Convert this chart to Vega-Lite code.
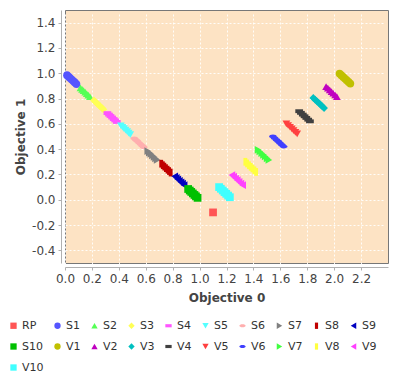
{
  "$schema": "https://vega.github.io/schema/vega-lite/v6.json",
  "autosize": {"type": "none"},
  "padding": {"left": 65, "top": 10, "right": 12, "bottom": 115},
  "width": 323,
  "height": 253,
  "background": "white",
  "config": {
    "view": {"fill": "#FDE3C4", "stroke": "#777777", "strokeWidth": 1},
    "font": "DejaVu Sans",
    "axis": {
      "labelFont": "DejaVu Sans", "labelFontSize": 12, "labelColor": "#444444",
      "titleFont": "DejaVu Sans", "titleFontSize": 12, "titleFontWeight": "bold", "titleColor": "#444444",
      "domainColor": "#B0B0B0", "tickColor": "#B0B0B0", "tickSize": 3, "labelPadding": 3,
      "labelOverlap": false, "labelFlush": false,
      "gridColor": "#FFFFFF", "gridDash": [2, 2], "gridOpacity": 0.9, "gridWidth": 1, "offset": 4
    }
  },
  "data": {"values": [
    {"s": "RP", "x": 1.1, "y": -0.1},
    {"s": "S1", "x": 0.015, "y": 0.985}, {"s": "S1", "x": 0.027, "y": 0.973}, {"s": "S1", "x": 0.038, "y": 0.962}, {"s": "S1", "x": 0.05, "y": 0.95}, {"s": "S1", "x": 0.062, "y": 0.938}, {"s": "S1", "x": 0.073, "y": 0.927}, {"s": "S1", "x": 0.085, "y": 0.915},
    {"s": "S2", "x": 0.115, "y": 0.885}, {"s": "S2", "x": 0.127, "y": 0.873}, {"s": "S2", "x": 0.138, "y": 0.862}, {"s": "S2", "x": 0.15, "y": 0.85}, {"s": "S2", "x": 0.162, "y": 0.838}, {"s": "S2", "x": 0.173, "y": 0.827}, {"s": "S2", "x": 0.185, "y": 0.815},
    {"s": "S3", "x": 0.215, "y": 0.785}, {"s": "S3", "x": 0.227, "y": 0.773}, {"s": "S3", "x": 0.238, "y": 0.762}, {"s": "S3", "x": 0.25, "y": 0.75}, {"s": "S3", "x": 0.262, "y": 0.738}, {"s": "S3", "x": 0.273, "y": 0.727}, {"s": "S3", "x": 0.285, "y": 0.715},
    {"s": "S4", "x": 0.315, "y": 0.685}, {"s": "S4", "x": 0.327, "y": 0.673}, {"s": "S4", "x": 0.338, "y": 0.662}, {"s": "S4", "x": 0.35, "y": 0.65}, {"s": "S4", "x": 0.362, "y": 0.638}, {"s": "S4", "x": 0.373, "y": 0.627}, {"s": "S4", "x": 0.385, "y": 0.615},
    {"s": "S5", "x": 0.415, "y": 0.585}, {"s": "S5", "x": 0.427, "y": 0.573}, {"s": "S5", "x": 0.438, "y": 0.562}, {"s": "S5", "x": 0.45, "y": 0.55}, {"s": "S5", "x": 0.462, "y": 0.538}, {"s": "S5", "x": 0.473, "y": 0.527}, {"s": "S5", "x": 0.485, "y": 0.515},
    {"s": "S6", "x": 0.515, "y": 0.485}, {"s": "S6", "x": 0.527, "y": 0.473}, {"s": "S6", "x": 0.538, "y": 0.462}, {"s": "S6", "x": 0.55, "y": 0.45}, {"s": "S6", "x": 0.562, "y": 0.438}, {"s": "S6", "x": 0.573, "y": 0.427}, {"s": "S6", "x": 0.585, "y": 0.415},
    {"s": "S7", "x": 0.615, "y": 0.385}, {"s": "S7", "x": 0.627, "y": 0.373}, {"s": "S7", "x": 0.638, "y": 0.362}, {"s": "S7", "x": 0.65, "y": 0.35}, {"s": "S7", "x": 0.662, "y": 0.338}, {"s": "S7", "x": 0.673, "y": 0.327}, {"s": "S7", "x": 0.685, "y": 0.315},
    {"s": "S8", "x": 0.715, "y": 0.285}, {"s": "S8", "x": 0.727, "y": 0.273}, {"s": "S8", "x": 0.738, "y": 0.262}, {"s": "S8", "x": 0.75, "y": 0.25}, {"s": "S8", "x": 0.762, "y": 0.238}, {"s": "S8", "x": 0.773, "y": 0.227}, {"s": "S8", "x": 0.785, "y": 0.215},
    {"s": "S9", "x": 0.815, "y": 0.185}, {"s": "S9", "x": 0.827, "y": 0.173}, {"s": "S9", "x": 0.838, "y": 0.162}, {"s": "S9", "x": 0.85, "y": 0.15}, {"s": "S9", "x": 0.862, "y": 0.138}, {"s": "S9", "x": 0.873, "y": 0.127}, {"s": "S9", "x": 0.885, "y": 0.115},
    {"s": "S10", "x": 0.915, "y": 0.085}, {"s": "S10", "x": 0.927, "y": 0.073}, {"s": "S10", "x": 0.938, "y": 0.062}, {"s": "S10", "x": 0.95, "y": 0.05}, {"s": "S10", "x": 0.962, "y": 0.038}, {"s": "S10", "x": 0.973, "y": 0.027}, {"s": "S10", "x": 0.985, "y": 0.015},
    {"s": "V1", "x": 2.04, "y": 0.998}, {"s": "V1", "x": 2.053, "y": 0.985}, {"s": "V1", "x": 2.067, "y": 0.971}, {"s": "V1", "x": 2.08, "y": 0.958}, {"s": "V1", "x": 2.093, "y": 0.945}, {"s": "V1", "x": 2.107, "y": 0.931}, {"s": "V1", "x": 2.12, "y": 0.918},
    {"s": "V2", "x": 1.94, "y": 0.895}, {"s": "V2", "x": 1.953, "y": 0.882}, {"s": "V2", "x": 1.967, "y": 0.868}, {"s": "V2", "x": 1.98, "y": 0.855}, {"s": "V2", "x": 1.993, "y": 0.842}, {"s": "V2", "x": 2.007, "y": 0.828}, {"s": "V2", "x": 2.02, "y": 0.815},
    {"s": "V3", "x": 1.845, "y": 0.805}, {"s": "V3", "x": 1.858, "y": 0.792}, {"s": "V3", "x": 1.872, "y": 0.778}, {"s": "V3", "x": 1.885, "y": 0.765}, {"s": "V3", "x": 1.898, "y": 0.752}, {"s": "V3", "x": 1.912, "y": 0.738}, {"s": "V3", "x": 1.925, "y": 0.725},
    {"s": "V4", "x": 1.74, "y": 0.7}, {"s": "V4", "x": 1.753, "y": 0.687}, {"s": "V4", "x": 1.767, "y": 0.673}, {"s": "V4", "x": 1.78, "y": 0.66}, {"s": "V4", "x": 1.793, "y": 0.647}, {"s": "V4", "x": 1.807, "y": 0.633}, {"s": "V4", "x": 1.82, "y": 0.62},
    {"s": "V5", "x": 1.645, "y": 0.6}, {"s": "V5", "x": 1.658, "y": 0.587}, {"s": "V5", "x": 1.672, "y": 0.573}, {"s": "V5", "x": 1.685, "y": 0.56}, {"s": "V5", "x": 1.698, "y": 0.547}, {"s": "V5", "x": 1.712, "y": 0.533}, {"s": "V5", "x": 1.725, "y": 0.52},
    {"s": "V6", "x": 1.545, "y": 0.5}, {"s": "V6", "x": 1.558, "y": 0.487}, {"s": "V6", "x": 1.572, "y": 0.473}, {"s": "V6", "x": 1.585, "y": 0.46}, {"s": "V6", "x": 1.598, "y": 0.447}, {"s": "V6", "x": 1.612, "y": 0.433}, {"s": "V6", "x": 1.625, "y": 0.42},
    {"s": "V7", "x": 1.435, "y": 0.395}, {"s": "V7", "x": 1.448, "y": 0.382}, {"s": "V7", "x": 1.462, "y": 0.368}, {"s": "V7", "x": 1.475, "y": 0.355}, {"s": "V7", "x": 1.488, "y": 0.342}, {"s": "V7", "x": 1.502, "y": 0.328}, {"s": "V7", "x": 1.515, "y": 0.315},
    {"s": "V8", "x": 1.34, "y": 0.3}, {"s": "V8", "x": 1.353, "y": 0.287}, {"s": "V8", "x": 1.367, "y": 0.273}, {"s": "V8", "x": 1.38, "y": 0.26}, {"s": "V8", "x": 1.393, "y": 0.247}, {"s": "V8", "x": 1.407, "y": 0.233}, {"s": "V8", "x": 1.42, "y": 0.22},
    {"s": "V9", "x": 1.24, "y": 0.195}, {"s": "V9", "x": 1.253, "y": 0.182}, {"s": "V9", "x": 1.267, "y": 0.168}, {"s": "V9", "x": 1.28, "y": 0.155}, {"s": "V9", "x": 1.293, "y": 0.142}, {"s": "V9", "x": 1.307, "y": 0.128}, {"s": "V9", "x": 1.32, "y": 0.115},
    {"s": "V10", "x": 1.145, "y": 0.1}, {"s": "V10", "x": 1.158, "y": 0.087}, {"s": "V10", "x": 1.172, "y": 0.073}, {"s": "V10", "x": 1.185, "y": 0.06}, {"s": "V10", "x": 1.198, "y": 0.047}, {"s": "V10", "x": 1.212, "y": 0.033}, {"s": "V10", "x": 1.225, "y": 0.02}
  ]},
  "mark": {"type": "point", "filled": true, "opacity": 1, "size": 60},
  "encoding": {
    "x": {
      "field": "x", "type": "quantitative", "title": "Objective 0",
      "scale": {"domain": [0, 2.4], "nice": false, "zero": false},
      "axis": {"values": [0, 0.2, 0.4, 0.6, 0.8, 1.0, 1.2, 1.4, 1.6, 1.8, 2.0, 2.2], "format": ".1f", "titlePadding": 8}
    },
    "y": {
      "field": "y", "type": "quantitative", "title": "Objective 1",
      "scale": {"domain": [-0.5, 1.5], "nice": false, "zero": false},
      "axis": {"values": [-0.4, -0.2, 0, 0.2, 0.4, 0.6, 0.8, 1.0, 1.2, 1.4], "labelExpr": "replace(format(datum.value, '.1f'), '\u2212', '-')", "titlePadding": 4}
    },
    "color": {
      "field": "s", "type": "nominal", "sort": null,
      "scale": {
        "domain": ["RP", "S1", "S2", "S3", "S4", "S5", "S6", "S7", "S8", "S9", "S10", "V1", "V2", "V3", "V4", "V5", "V6", "V7", "V8", "V9", "V10"],
        "range": ["#FF5555", "#5555FF", "#55FF55", "#FFFF55", "#FF55FF", "#55FFFF", "#FFAFAF", "#808080", "#C00000", "#0000C0", "#00C000", "#C0C000", "#C000C0", "#00C0C0", "#404040", "#FF4040", "#4040FF", "#40FF40", "#FFFF40", "#FF40FF", "#40FFFF"]
      },
      "legend": {
        "title": null, "orient": "none", "legendX": -57, "legendY": 310,
        "direction": "horizontal", "columns": 10, "gridAlign": "each",
        "symbolSize": 40, "symbolStrokeWidth": 0, "symbolOpacity": 1,
        "labelFont": "DejaVu Sans", "labelFontSize": 11, "labelColor": "#333333",
        "labelOffset": 3, "columnPadding": 8, "rowPadding": 9, "padding": 0
      }
    },
    "shape": {
      "field": "s", "type": "nominal", "sort": null,
      "scale": {
        "domain": ["RP", "S1", "S2", "S3", "S4", "S5", "S6", "S7", "S8", "S9", "S10", "V1", "V2", "V3", "V4", "V5", "V6", "V7", "V8", "V9", "V10"],
        "range": ["square", "circle", "triangle-up", "diamond", "M-1,-0.5H1V0.5H-1Z", "triangle-down", "M-1,0A1,0.5,0,1,1,1,0A1,0.5,0,1,1,-1,0Z", "triangle-right", "M-0.5,-1H0.5V1H-0.5Z", "triangle-left", "square", "circle", "triangle-up", "diamond", "M-1,-0.5H1V0.5H-1Z", "triangle-down", "M-1,0A1,0.5,0,1,1,1,0A1,0.5,0,1,1,-1,0Z", "triangle-right", "M-0.5,-1H0.5V1H-0.5Z", "triangle-left", "square"]
      },
      "legend": null
    }
  }
}
